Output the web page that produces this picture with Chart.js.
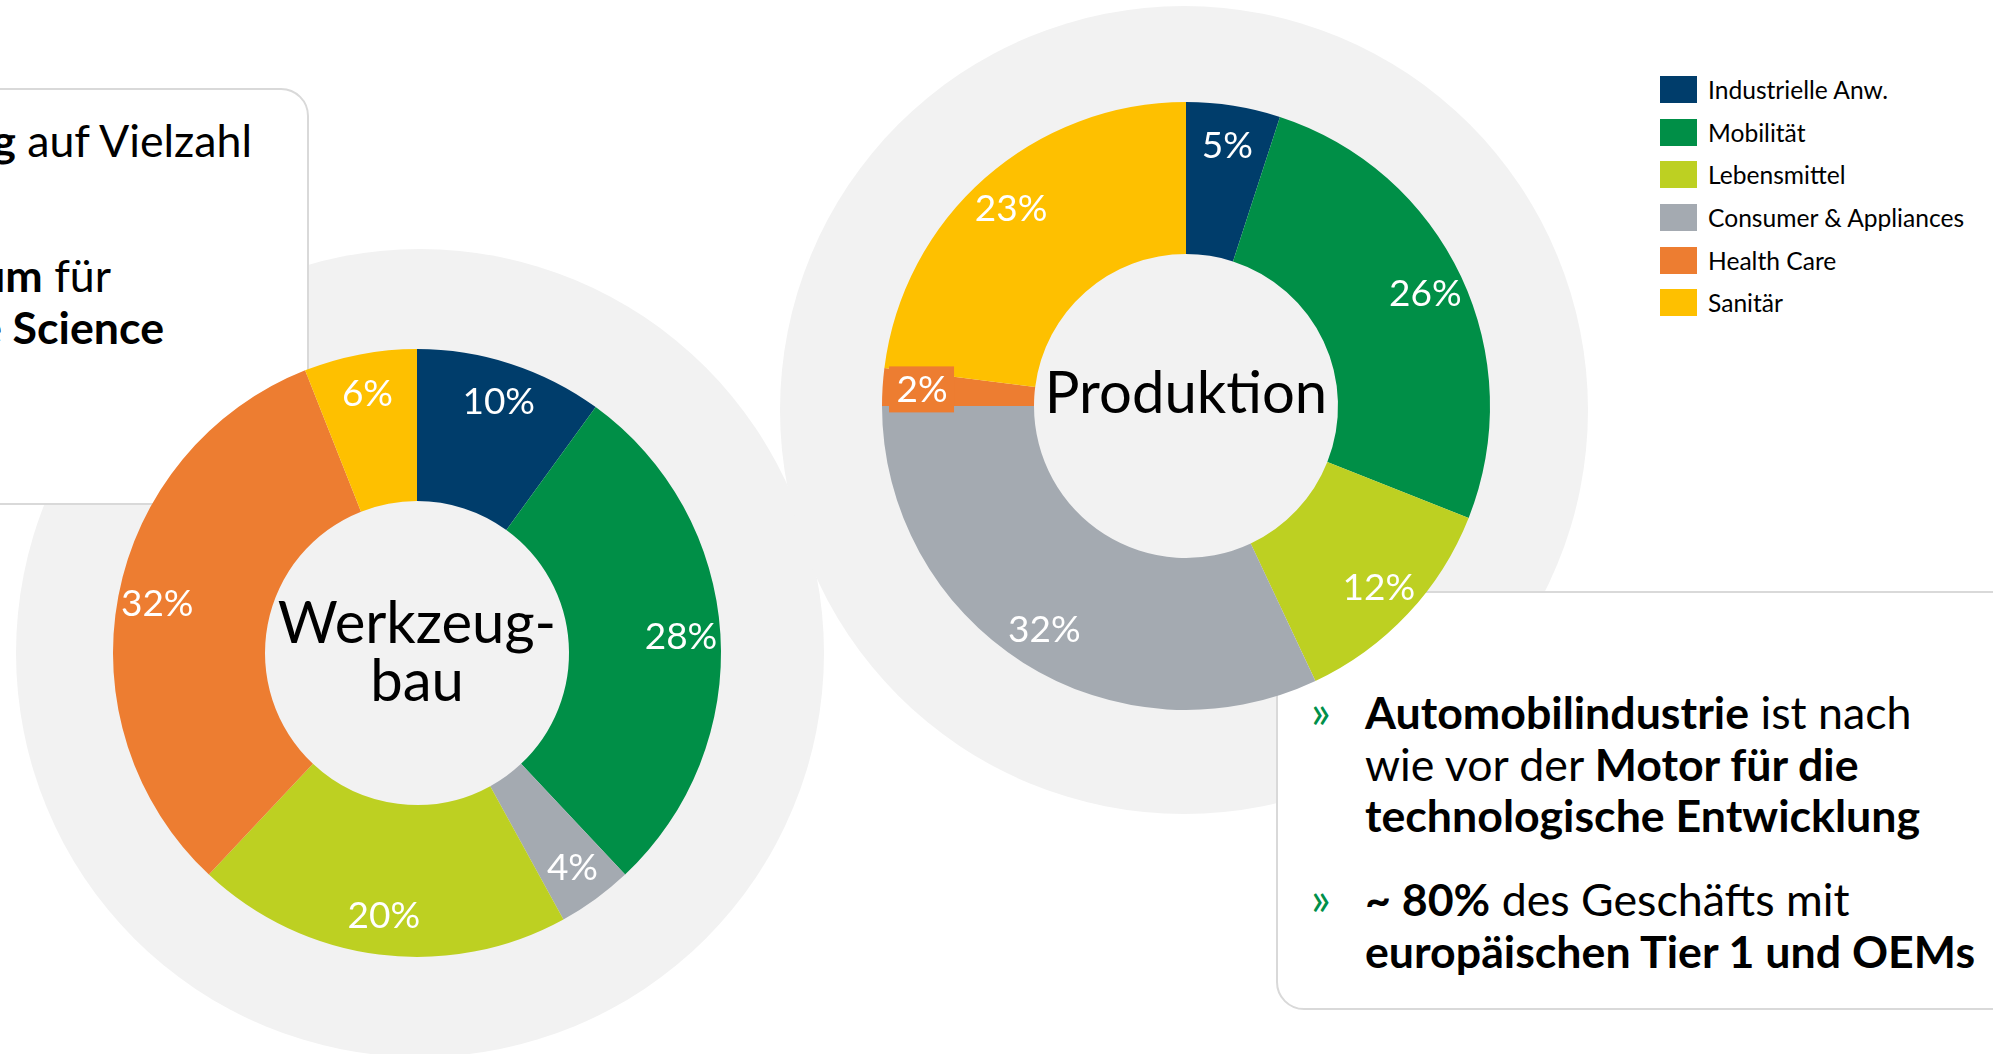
<!DOCTYPE html>
<html lang="de">
<head>
<meta charset="utf-8">
<title>Branchenverteilung Werkzeugbau / Produktion</title>
<script src="https://cdn.jsdelivr.net/npm/chart.js@4.4.1/dist/chart.umd.min.js"></script>
<style>
  html, body { margin: 0; padding: 0; }
  body {
    width: 1993px; height: 1054px; overflow: hidden; position: relative;
    background: #ffffff; font-family: 'Lato', 'Open Sans', sans-serif; color: #000;
  }
  .bg-circle { position: absolute; border-radius: 50%; background: #f2f2f2; }
  .box {
    position: absolute; background: #fff; border: 2px solid #d9d9d9;
    border-radius: 28px; box-sizing: border-box;
  }
  .box-line { position: absolute; white-space: nowrap; font-size: 44.7px; line-height: 51px; }
  .bullet { position: absolute; color: #00904a; font-size: 46px; line-height: 51px; }
  canvas { position: absolute; }
  #legend { position: absolute; left: 1660px; top: 68px; }
  .legend-item { height: 42.7px; display: flex; align-items: center; }
  .legend-swatch { width: 37px; height: 27px; margin-right: 11px; }
  .legend-text { font-size: 24.6px; }
</style>
</head>
<body>

<div class="bg-circle" style="left:16px; top:249px; width:808px; height:808px;"></div>
<div class="bg-circle" style="left:780px; top:6px; width:808px; height:808px;"></div>

<!-- left text box, cut off by the page edge -->
<div class="box" style="left:-40px; top:88px; width:349px; height:417px;"></div>
<div class="box-line" style="right:1741px; top:115px;"><b>g</b> auf Vielzahl</div>
<div class="box-line" style="right:1882px; top:250px;"><b>um</b> für</div>
<div class="box-line" style="right:1829px; top:302px;"><b>e Science</b></div>

<!-- right text box -->
<div class="box" style="left:1276px; top:591px; width:760px; height:419px;"></div>
<div class="bullet" style="left:1311px; top:685px;">»</div>
<div class="box-line" style="left:1365px; top:687px;"><b>Automobilindustrie</b> ist nach</div>
<div class="box-line" style="left:1365px; top:739px;">wie vor der <b>Motor für die</b></div>
<div class="box-line" style="left:1365px; top:790px;"><b>technologische Entwicklung</b></div>
<div class="bullet" style="left:1311px; top:872px;">»</div>
<div class="box-line" style="left:1365px; top:874px;"><b>~ 80%</b> des Geschäfts mit</div>
<div class="box-line" style="left:1365px; top:926px;"><b>europäischen Tier 1 und OEMs</b></div>

<canvas id="werkzeugbau" width="700" height="700" style="left:67px; top:303px;"></canvas>
<canvas id="produktion" width="700" height="700" style="left:836px; top:56px;"></canvas>

<div id="legend"></div>

<script>
// legend order (all branches)
const branches = ['Industrielle Anw.', 'Mobilität', 'Lebensmittel', 'Consumer & Appliances', 'Health Care', 'Sanitär'];

// Werkzeugbau, clockwise from 12 o'clock
const werkzeugbauLabels = ['Industrielle Anw.', 'Mobilität', 'Consumer & Appliances', 'Lebensmittel', 'Health Care', 'Sanitär'];
const werkzeugbauValues = [10, 28, 4, 20, 32, 6];

// Produktion, clockwise from 12 o'clock
const produktionLabels = ['Industrielle Anw.', 'Mobilität', 'Lebensmittel', 'Consumer & Appliances', 'Health Care', 'Sanitär'];
const produktionValues = [5, 26, 12, 32, 2, 23];

const branchColors = {
  'Industrielle Anw.': '#003d6b',
  'Mobilität': '#008f47',
  'Lebensmittel': '#bdd022',
  'Consumer & Appliances': '#a4aab1',
  'Health Care': '#ed7d31',
  'Sanitär': '#fec000'
};

// percentage labels on the ring, small slices get a coloured box
const sliceLabels = {
  id: 'sliceLabels',
  afterDatasetsDraw(chart) {
    const ctx = chart.ctx;
    const meta = chart.getDatasetMeta(0);
    const values = chart.data.datasets[0].data;
    ctx.save();
    ctx.font = '37px Lato';
    ctx.textAlign = 'center';
    ctx.textBaseline = 'middle';
    meta.data.forEach((arc, i) => {
      const p = arc.getProps(['x', 'y', 'startAngle', 'endAngle', 'outerRadius'], true);
      const mid = (p.startAngle + p.endAngle) / 2;
      const r = p.outerRadius * 0.87;
      const x = p.x + Math.cos(mid) * r;
      const y = p.y + Math.sin(mid) * r;
      if (values[i] <= 2) {
        ctx.fillStyle = arc.options.backgroundColor;
        ctx.fillRect(x - 33, y - 23, 65, 46);
      }
      ctx.fillStyle = '#ffffff';
      ctx.fillText(values[i] + '%', x, y + 1);
    });
    ctx.restore();
  }
};

const centerText = {
  id: 'centerText',
  afterDatasetsDraw(chart, args, opts) {
    const ctx = chart.ctx;
    const arc = chart.getDatasetMeta(0).data[0];
    ctx.save();
    ctx.font = '58px Lato';
    ctx.fillStyle = '#000000';
    ctx.textAlign = 'center';
    ctx.textBaseline = 'alphabetic';
    opts.lines.forEach((line, i) => {
      ctx.fillText(line, arc.x, arc.y + opts.firstBaseline + i * 58);
    });
    ctx.restore();
  }
};

function renderDonut(canvasId, labels, values, lines, firstBaseline) {
  return new Chart(document.getElementById(canvasId), {
    type: 'doughnut',
    data: {
      labels: labels,
      datasets: [{
        data: values,
        backgroundColor: labels.map(l => branchColors[l]),
        borderWidth: 0
      }]
    },
    options: {
      responsive: false,
      animation: false,
      devicePixelRatio: 1,
      cutout: '50%',
      layout: { padding: 46 },
      plugins: {
        legend: { display: false },
        tooltip: { enabled: false },
        centerText: { lines: lines, firstBaseline: firstBaseline }
      }
    },
    plugins: [sliceLabels, centerText]
  });
}

renderDonut('werkzeugbau', werkzeugbauLabels, werkzeugbauValues, ['Werkzeug-', 'bau'], -10);
renderDonut('produktion', produktionLabels, produktionValues, ['Produktion'], 7);

// legend
const legendEl = document.getElementById('legend');
branches.forEach(b => {
  const item = document.createElement('div');
  item.className = 'legend-item';
  item.innerHTML = '<div class="legend-swatch" style="background:' + branchColors[b] + '"></div>' +
    '<div class="legend-text"></div>';
  item.querySelector('.legend-text').textContent = b;
  legendEl.appendChild(item);
});
</script>
</body>
</html>
